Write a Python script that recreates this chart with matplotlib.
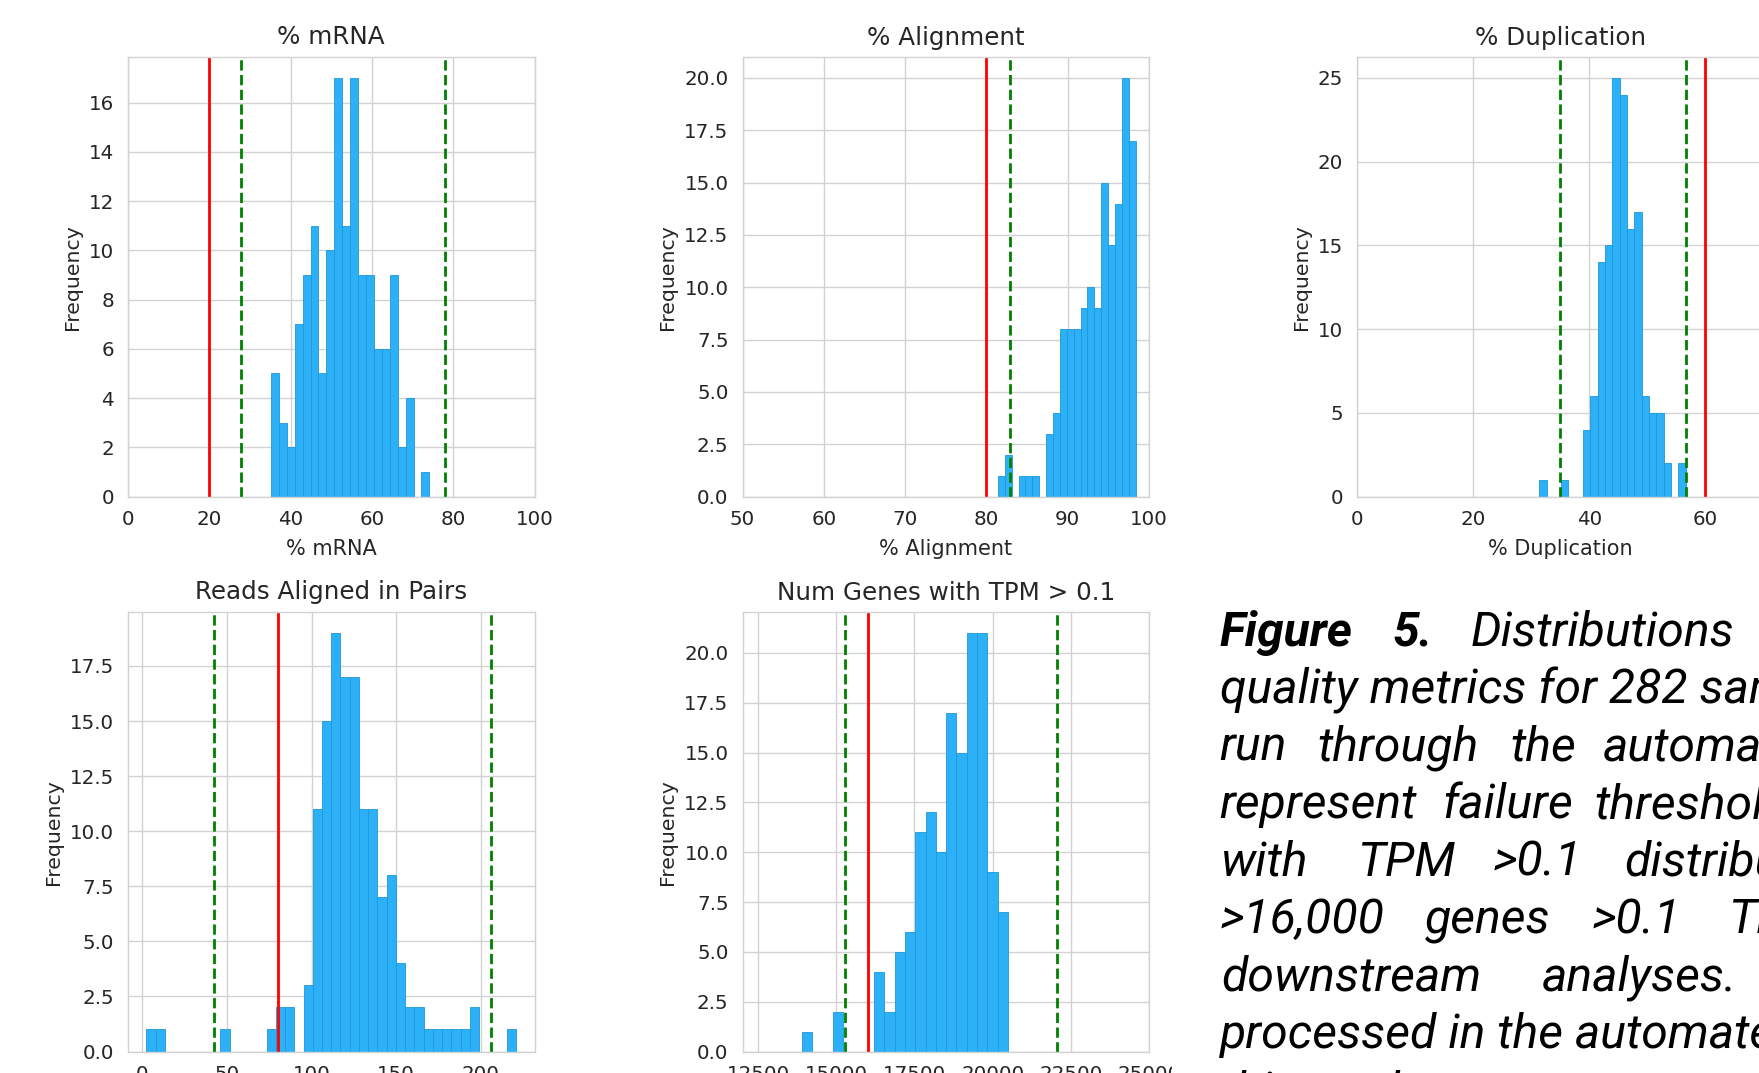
import numpy as np
import matplotlib.pyplot as plt
from matplotlib.patches import Rectangle
from matplotlib.ticker import MultipleLocator

W, H = 1759, 1073

# histogram counts (143 samples each)
mrna_counts = [5, 3, 2, 7, 9, 11, 5, 10, 17, 11, 17, 9, 9, 6, 6, 9, 2, 4, 0, 1]
mrna_range = (35.15, 74.15)

align_counts = [1, 2, 0, 1, 1, 1, 0, 3, 4, 8, 8, 8, 9, 10, 9, 15, 12, 14, 20, 17]
align_range = (81.41, 98.36)

dup_counts = [1, 0, 0, 1, 0, 0, 4, 6, 14, 15, 25, 24, 16, 17, 6, 5, 5, 2, 0, 2]
dup_range = (31.37, 56.62)

reads_counts = [1, 1, 0, 0, 0, 0, 0, 0, 1, 0, 0, 0, 0, 1, 2, 2, 0, 3, 11, 15,
                19, 17, 17, 11, 11, 7, 8, 4, 2, 2, 1, 1, 1, 1, 1, 2, 0, 0, 0, 1]
reads_range = (2.48, 220.7)

tpm_counts = [1, 0, 0, 2, 0, 0, 0, 4, 2, 5, 6, 11, 12, 10, 17, 15, 21, 21, 9, 7]
tpm_range = (13902, 20488)

# thresholds: red = fail, green = +/- bounds
red_lines = [20, 80, 60, 80, 16000]
green_lines = [[27.9, 78.0], [82.9], [34.9, 56.6], [42.1, 206.0], [15270, 22070]]

titles = ["% mRNA", "% Alignment", "% Duplication",
          "Reads Aligned in Pairs", "Num Genes with TPM > 0.1"]
xlabels = ["% mRNA", "% Alignment", "% Duplication", None, None]
xlims = [(0, 100), (50, 100), (0, 70), None, (12000, 25000)]
xsteps = [20, 10, 20, 50, 2500]
ysteps = [2, 2.5, 5, 2.5, 2.5]

counts_all = [mrna_counts, align_counts, dup_counts, reads_counts, tpm_counts]
ranges_all = [mrna_range, align_range, dup_range, reads_range, tpm_range]

plt.rcParams["font.family"] = "DejaVu Sans"
plt.rcParams["text.color"] = "#262626"
plt.rcParams["axes.labelcolor"] = "#262626"
plt.rcParams["xtick.color"] = "#262626"
plt.rcParams["ytick.color"] = "#262626"

fig = plt.figure(figsize=(W / 100, H / 100), dpi=100)

# axes boxes in pixels: left, top
lefts = [128, 742.5, 1357, 128, 742.5]
tops = [57, 57, 57, 612, 612]
aw, ah = 406.5, 439.5

for i in range(5):
    ax = fig.add_axes([lefts[i] / W, 1 - (tops[i] + ah) / H, aw / W, ah / H])
    counts = counts_all[i]
    lo, hi = ranges_all[i]
    edges = np.linspace(lo, hi, len(counts) + 1)
    centers = (edges[:-1] + edges[1:]) / 2
    ax.hist(centers, bins=edges, weights=counts, color="#2cb0f7",
            edgecolor="#1e98d6", linewidth=0.6)
    ax.axvline(red_lines[i], color="red", linewidth=2)
    for g in green_lines[i]:
        ax.axvline(g, color="green", linestyle="--", linewidth=2)
    if xlims[i] is not None:
        ax.set_xlim(*xlims[i])
    ax.xaxis.set_major_locator(MultipleLocator(xsteps[i]))
    ax.yaxis.set_major_locator(MultipleLocator(ysteps[i]))
    ax.set_title(titles[i], fontsize=17.7, pad=9)
    ax.set_ylabel("Frequency", fontsize=14.7, labelpad=5)
    if xlabels[i]:
        ax.set_xlabel(xlabels[i], fontsize=15, labelpad=7)
    ax.set_axisbelow(True)
    ax.grid(True, color="#d2d2d2", linewidth=1)
    for s in ax.spines.values():
        s.set_color("#d2d2d2")
        s.set_linewidth(1)
    ax.tick_params(length=0, labelsize=14.3, pad=10)

# white caption box covering the empty slot
fig.patches.append(Rectangle((1172 / W, 0), 1 - 1172 / W, 1 - 578 / H,
                             transform=fig.transFigure, facecolor="white",
                             edgecolor="none", zorder=5))

# caption, justified words placed where they sit in the picture
cap_lines = [
    [("Figure", 1219.6, "bold"), ("5.", 1392.5, "bold"), ("Distributions", 1471, "normal")],
    [("quality metrics for 282 samples", 1219.6, "normal")],
    [("run", 1219.6, "normal"), ("through", 1317.6, "normal"), ("the", 1510, "normal"),
     ("automated", 1602.8, "normal")],
    [("represent", 1219.6, "normal"), ("failure", 1442.4, "normal"),
     ("thresholds", 1594, "normal")],
    [("with", 1221, "normal"), ("TPM", 1356.9, "normal"), (">0.1", 1492.3, "normal"),
     ("distribution", 1624.2, "normal")],
    [(">16,000", 1219.6, "normal"), ("genes", 1424.6, "normal"), (">0.1", 1592, "normal"),
     ("TPM", 1727.6, "normal")],
    [("downstream", 1221, "normal"), ("analyses.", 1542.2, "normal")],
    [("processed in the automated", 1219.6, "normal")],
    [("this study", 1219.6, "normal")],
]
base0, step = 646, 57.4
for k, line in enumerate(cap_lines):
    y = 1 - (base0 + k * step) / H
    for word, x, wt in line:
        fig.text(x / W, y, word, fontsize=34.7, family="Roboto", style="italic",
                 weight=wt, color="black", va="baseline", ha="left", zorder=6)

fig.savefig("out.png", dpi=100)
